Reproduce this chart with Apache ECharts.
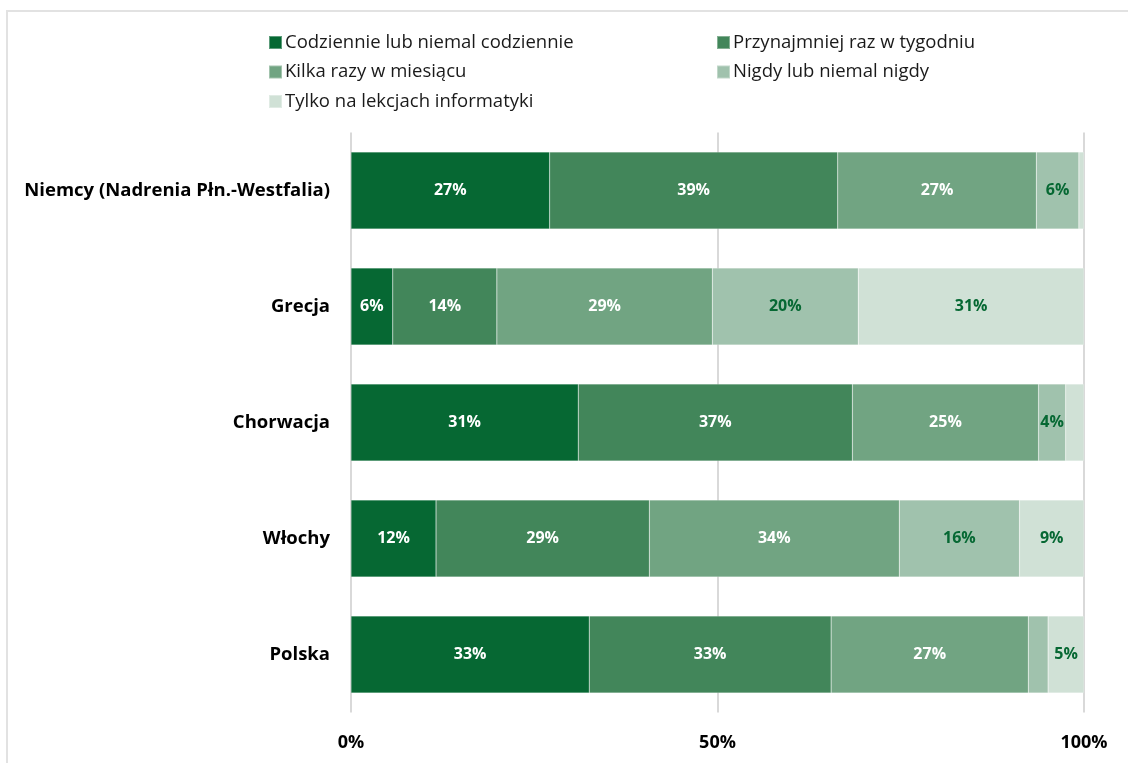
<!DOCTYPE html>
<html>
<head>
<meta charset="utf-8">
<script src="https://cdn.jsdelivr.net/npm/echarts@6/dist/echarts.min.js"></script>
<style>
html,body{margin:0;padding:0;background:#fff;}
#chart{width:1128px;height:763px;}
</style>
</head>
<body>
<div id="chart"></div>
<script>
const categories = ['Niemcy (Nadrenia Płn.-Westfalia)', 'Grecja', 'Chorwacja', 'Włochy', 'Polska'];
const seriesNames = ['Codziennie lub niemal codziennie', 'Przynajmniej raz w tygodniu', 'Kilka razy w miesiącu', 'Nigdy lub niemal nigdy', 'Tylko na lekcjach informatyki'];
const codziennie = [27.1, 5.7, 31.0, 11.6, 32.5];
const tygodniowo = [39.3, 14.2, 37.4, 29.1, 33.0];
const miesiecznie = [27.1, 29.4, 25.4, 34.1, 26.9];
const nigdy = [5.8, 19.9, 3.7, 16.4, 2.7];
const informatyka = [0.7, 30.8, 2.5, 8.8, 4.9];
const xTicks = ['0%', '50%', '100%'];

const colors = ['#066833', '#42865a', '#71a482', '#a0c2ad', '#d0e1d6'];
const labelColors = ['#ffffff', '#ffffff', '#ffffff', '#066833', '#066833'];
const allData = [codziennie, tygodniowo, miesiecznie, nigdy, informatyka];
const FONT = '"Open Sans", sans-serif';

const series = allData.map((d, i) => ({
  name: seriesNames[i],
  type: 'bar',
  stack: 'total',
  data: d,
  barCategoryGap: '33.6%',
  itemStyle: { color: colors[i], borderColor: 'rgba(255,255,255,0.35)', borderWidth: 0.5 },
  label: {
    show: true,
    position: 'inside',
    color: labelColors[i],
    fontFamily: FONT,
    fontWeight: 'bold',
    fontSize: 16,
    formatter: p => (p.value >= 3 ? Math.round(p.value) + '%' : '')
  },
  emphasis: { disabled: true }
}));

const legendText = { fontFamily: FONT, fontSize: 18.5, color: '#1a1a1a', lineHeight: 17, padding: [0, 0, 0, -2] };

const chart = echarts.init(document.getElementById('chart'), null, { renderer: 'canvas' });
chart.setOption({
  animation: false,
  backgroundColor: '#ffffff',
  graphic: [{
    type: 'rect',
    shape: { x: 7, y: 11, width: 1300, height: 900 },
    style: { fill: 'none', stroke: '#e2e2e2', lineWidth: 2 },
    silent: true,
    z: -1
  }],
  legend: [
    {
      data: [seriesNames[0], seriesNames[2], seriesNames[4]],
      orient: 'vertical',
      left: 268, top: 33, padding: 0,
      itemWidth: 13, itemHeight: 13, itemGap: 10.5,
      icon: 'rect',
      selectedMode: false,
      textStyle: legendText
    },
    {
      data: [seriesNames[1], seriesNames[3]],
      orient: 'vertical',
      left: 716, top: 33, padding: 0,
      itemWidth: 13, itemHeight: 13, itemGap: 10.5,
      icon: 'rect',
      selectedMode: false,
      textStyle: legendText
    }
  ],
  grid: { left: 351, right: 44, top: 132.5, bottom: 50.5, containLabel: false },
  xAxis: {
    type: 'value',
    min: 0, max: 100, interval: 50,
    axisLine: { show: false },
    axisTick: { show: false },
    splitLine: { show: true, lineStyle: { color: '#d9d9d9', width: 2 } },
    axisLabel: {
      margin: 21,
      fontFamily: FONT, fontWeight: 'bold', fontSize: 18, color: '#000',
      formatter: v => xTicks[Math.round(v / 50)]
    }
  },
  yAxis: {
    type: 'category',
    data: categories,
    inverse: true,
    axisLine: { show: false },
    axisTick: { show: false },
    axisLabel: {
      margin: 21,
      fontFamily: FONT, fontWeight: 'bold', fontSize: 18.5, color: '#000'
    }
  },
  series: series
});
</script>
</body>
</html>
